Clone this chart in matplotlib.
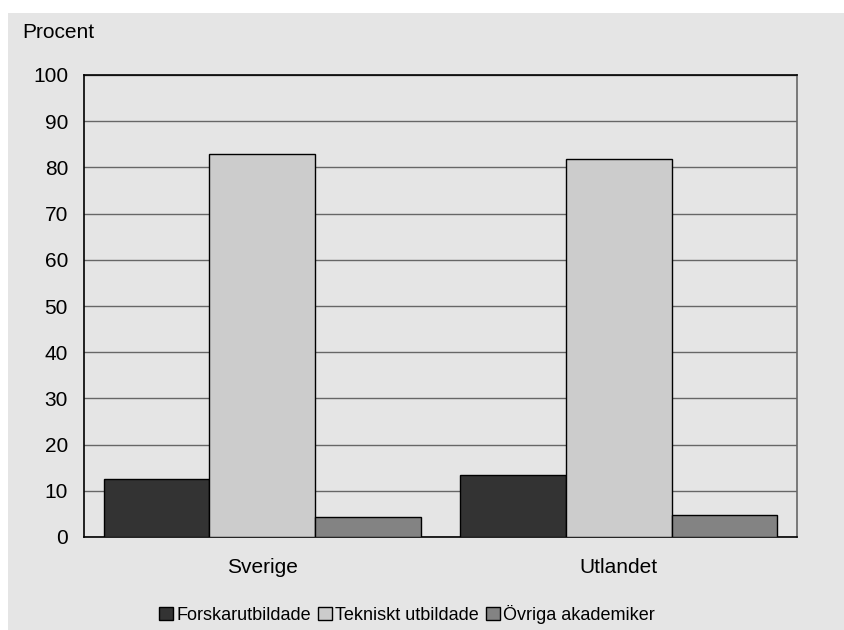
import numpy as np
import matplotlib.pyplot as plt
from matplotlib.patches import Rectangle

plt.rcParams['font.family'] = ['Liberation Sans', 'DejaVu Sans']

categories = ['Sverige', 'Utlandet']
series = ['Forskarutbildade', 'Tekniskt utbildade', 'Övriga akademiker']
values = [
    [12.5, 13.4],
    [83.0, 81.8],
    [4.3, 4.7],
]
colors = ['#333333', '#cccccc', '#838383']
yticks = [0, 10, 20, 30, 40, 50, 60, 70, 80, 90, 100]

bg = '#e5e5e5'
fig = plt.figure(figsize=(8.44, 6.3), dpi=100, facecolor='white')
fig.patches.append(Rectangle((8 / 844, 0), 1, 1 - 13 / 630, transform=fig.transFigure,
                             facecolor=bg, edgecolor='none', zorder=-10))

ax = fig.add_axes([84 / 844, 1 - 537 / 630, (797 - 84) / 844, (537 - 75) / 630])
ax.set_facecolor(bg)

x = np.arange(len(categories))
w = 0.2963
for i, (name, vals) in enumerate(zip(series, values)):
    ax.bar(x + (i - 1) * w, vals, width=w, color=colors[i], edgecolor='black',
           linewidth=1, label=name, zorder=3)

ax.set_xlim(-0.5, 1.5)
ax.set_ylim(0, 100)
ax.set_yticks(yticks)
ax.set_xticks(x)
ax.set_xticklabels(categories, fontsize=15)
ax.tick_params(axis='y', length=0, pad=11.5, labelsize=15)
ax.tick_params(axis='x', length=0, pad=15)
ax.grid(axis='y', color='#666666', linewidth=1, zorder=1)

for side in ['left', 'top', 'bottom']:
    ax.spines[side].set_color('black')
    ax.spines[side].set_linewidth(1.2)
ax.spines['right'].set_color('#666666')
ax.spines['right'].set_linewidth(1.2)

fig.text(22 / 844, 1 - 32 / 630, 'Procent', fontsize=15, va='center', ha='left')

fig.legend(loc='center', bbox_to_anchor=(407 / 844, 1 - 614 / 630), ncol=3,
           frameon=False, fontsize=13, handlelength=0.75, handleheight=0.75,
           handletextpad=0.2, columnspacing=0.4, borderpad=0)

fig.savefig('out.png', dpi=100, facecolor=fig.get_facecolor())
